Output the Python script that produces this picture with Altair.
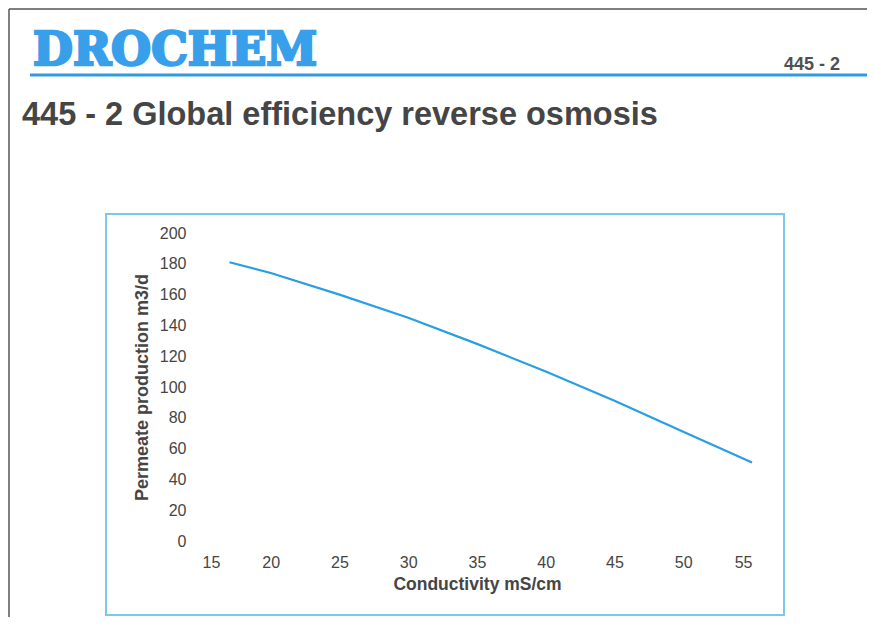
import altair as alt
import pandas as pd

# Data
conductivity = [17, 20, 25, 30, 35, 40, 45, 50, 55]
production = [181, 174, 160, 145, 128, 110, 91, 71, 51]

x_ticks = [15, 20, 25, 30, 35, 40, 45, 50, 55]
y_ticks = [0, 20, 40, 60, 80, 100, 120, 140, 160, 180, 200]

logo_text = "DROCHEM"
page_code = "445 - 2"
title_text = "445 - 2 Global efficiency reverse osmosis"
x_title = "Conductivity mS/cm"
y_title = "Permeate production m3/d"

df = pd.DataFrame({"conductivity": conductivity, "production": production})
one = pd.DataFrame({"k": [0]})

FONT = "Liberation Sans"
BLUE = "#2f9be3"
TXT = "#454545"

line = alt.Chart(df).mark_line(color="#2a9ee2", strokeWidth=2.2).encode(
    x=alt.X("conductivity:Q",
            scale=alt.Scale(domain=[15, 55], nice=False, zero=False),
            axis=alt.Axis(values=x_ticks, title=x_title, grid=False, domain=False,
                          ticks=False, labelPadding=13, labelFontSize=16,
                          labelColor=TXT, labelFont=FONT, titleFont=FONT,
                          titleFontSize=17.5, titleFontWeight="bold", titleColor=TXT,
                          titlePadding=5)),
    y=alt.Y("production:Q",
            scale=alt.Scale(domain=[0, 200], nice=False),
            axis=alt.Axis(values=y_ticks, title=y_title, grid=False, domain=False,
                          ticks=False, labelPadding=16, labelFontSize=16,
                          labelColor=TXT, labelFont=FONT, titleFont=FONT,
                          titleFontSize=18, titleFontWeight="bold", titleColor=TXT,
                          titlePadding=8)),
)

# page frame (top and left edges)
frame_top = alt.Chart(one).mark_rule(color="#555555", strokeWidth=1.5).encode(
    x=alt.value(-193), x2=alt.value(665), y=alt.value(-224))
frame_left = alt.Chart(one).mark_rule(color="#555555", strokeWidth=1.5).encode(
    x=alt.value(-193), y=alt.value(-224), y2=alt.value(395))

# chart box
box = alt.Chart(one).mark_rect(fill=None, stroke="#7cc8ec", strokeWidth=2).encode(
    x=alt.value(-96), x2=alt.value(582), y=alt.value(-19), y2=alt.value(382))

# header rule
header_rule = alt.Chart(one).mark_rule(color=BLUE, strokeWidth=3).encode(
    x=alt.value(-172), x2=alt.value(665), y=alt.value(-158))

logo = alt.Chart(one).mark_text(
    text=logo_text, font="DejaVu Serif", fontWeight="bold", fontSize=46,
    color="#38a0ea", stroke="#38a0ea", strokeWidth=2.5,
    align="left", baseline="alphabetic").encode(
    x=alt.value(-169), y=alt.value(-168))

code = alt.Chart(one).mark_text(
    text=page_code, font=FONT, fontWeight="bold", fontSize=18, color="#505050",
    align="right", baseline="alphabetic").encode(
    x=alt.value(638), y=alt.value(-163))

title = alt.Chart(one).mark_text(
    text=title_text, font=FONT, fontWeight="bold", fontSize=32.5, color=TXT,
    align="left", baseline="alphabetic").encode(
    x=alt.value(-180), y=alt.value(-108))

chart = alt.layer(frame_top, frame_left, box, header_rule, logo, code, title, line).properties(
    width=550, height=308,
    padding={"left": 194, "top": 225, "right": 115, "bottom": 76},
    autosize=alt.AutoSizeParams(type="none"),
    background="white",
).configure_view(strokeWidth=0)

chart.save("out.html", embed_options={"renderer": "svg", "actions": False})
